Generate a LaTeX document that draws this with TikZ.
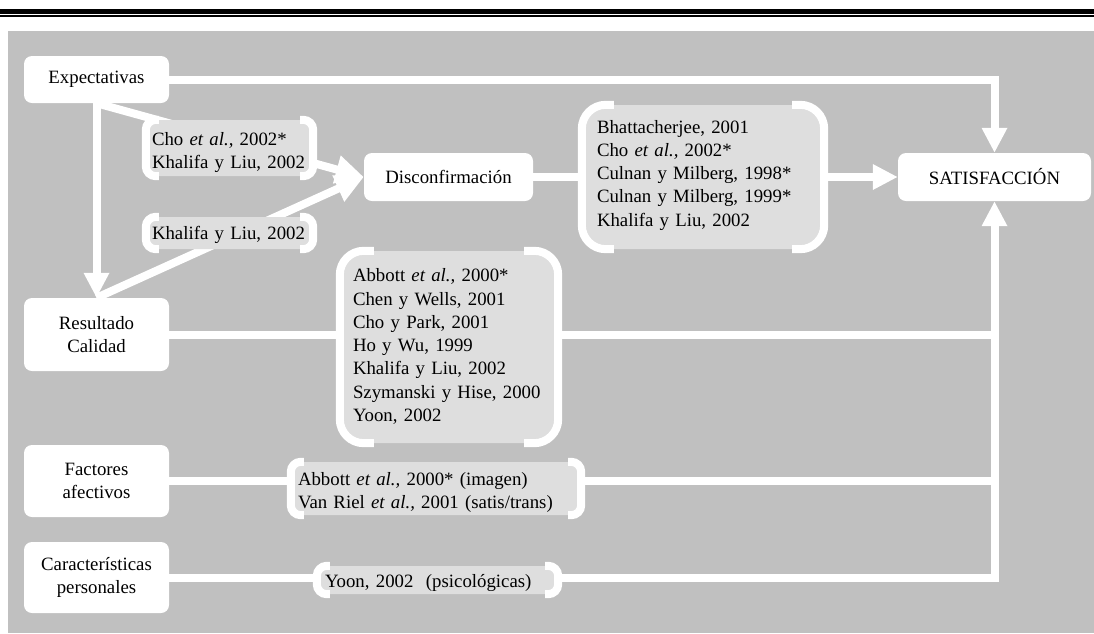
\documentclass[tikz,border=0pt]{standalone}
\usepackage{fontspec}
\setmainfont{Liberation Serif}
\usetikzlibrary{arrows.meta}
\pgfdeclarelayer{panel}
\pgfdeclarelayer{links}
\pgfsetlayers{panel,links,main}
\definecolor{panelgray}{HTML}{C0C0C0}
\definecolor{reffill}{HTML}{DEDEDE}

% reference list: one left-aligned column, never broken, optionally shifted up/down
\newcommand\reflist[2][0pt]{\raisebox{#1}[\height][\depth]{\begin{tabular}{@{}l@{}}#2\end{tabular}}}
% white side brackets of a reference box: name, corner radius, stub length
\newcommand\refbrackets[3]{%
  \draw[citebracket, rounded corners=#2]
    ([xshift=#2+#3]#1.north west) -- (#1.north west) -- (#1.south west) -- ([xshift=#2+#3]#1.south west);
  \draw[citebracket, rounded corners=#2]
    ([xshift=-#2-#3]#1.north east) -- (#1.north east) -- (#1.south east) -- ([xshift=-#2-#3]#1.south east);
}

\begin{document}
\begin{tikzpicture}[x=1pt,y=-1pt,
  every node/.style={font={\fontsize{18.8}{23.3}\selectfont}, text=black},
  factor/.style={fill=white, rounded corners=8pt, align=center, inner sep=0pt},
  refbox/.style={fill=reffill, align=left, inner ysep=0pt},
  flow/.style={draw=white, line width=8pt},
  arrowed/.style={-{Triangle[length=25pt,width=24pt]}},
  bigarrowed/.style={-{Triangle[length=28pt,width=27pt]}},
  citebracket/.style={draw=white, line width=8pt},
]
\useasboundingbox (0,0) rectangle (1094,633);

% page rules and grey panel
\begin{pgfonlayer}{panel}
  \fill[black] (0,9) rectangle (1094,14);
  \fill[black] (0,15.3) rectangle (1094,17);
  \fill[panelgray] (8,31) rectangle (1094,633);
\end{pgfonlayer}

% constructs
\node[factor, minimum width=145pt, minimum height=47pt] (exp) at (96.5,79.5) {Expectativas};
\node[factor, minimum width=145pt, minimum height=73pt] (res) at (96.5,334.5) {Resultado\\Calidad};
\node[factor, minimum width=145pt, minimum height=72pt] (fac) at (96.5,481) {Factores\\afectivos};
\node[factor, minimum width=145pt, minimum height=71pt] (car) at (96.5,577.5) {Características\\personales};
\node[factor, minimum width=169pt, minimum height=48pt] (dis) at (448.5,177) {Disconfirmación};
\node[factor, minimum width=193pt, minimum height=48pt] (sat) at (994.5,177) {SATISFACCIÓN};

% studies supporting each relation
\node[refbox, rounded corners=10pt, minimum height=56pt, text width=155pt, inner xsep=6pt] (cho) at (229.5,148)
  {\reflist[-4pt]{Cho \textit{et al.,} 2002*\\Khalifa y Liu, 2002}};
\node[refbox, rounded corners=10pt, minimum height=32pt, text width=155pt, inner xsep=6pt] (kha) at (229.5,233)
  {\reflist[-2pt]{Khalifa y Liu, 2002}};
\node[refbox, rounded corners=24pt, minimum height=144pt, text width=212pt, inner xsep=15pt] (cul) at (703,177)
  {\reflist[2pt]{Bhattacherjee, 2001\\Cho \textit{et al.,} 2002*\\Culnan y Milberg, 1998*\\Culnan y Milberg, 1999*\\Khalifa y Liu, 2002}};
\node[refbox, rounded corners=24pt, minimum height=192pt, text width=192pt, inner xsep=13pt] (abb) at (449,347)
  {\reflist{Abbott \textit{et al.,} 2000*\\Chen y Wells, 2001\\Cho y Park, 2001\\Ho y Wu, 1999\\Khalifa y Liu, 2002\\Szymanski y Hise, 2000\\Yoon, 2002}};
\node[refbox, rounded corners=10pt, minimum height=53pt, text width=276pt, inner xsep=7pt] (img) at (436,488.5)
  {\reflist[-4pt]{Abbott \textit{et al.,} 2000* (imagen)\\Van Riel \textit{et al.,} 2001 (satis/trans)}};
\node[refbox, rounded corners=10pt, minimum height=28pt, text width=225pt, inner xsep=8pt] (yoon) at (437.5,580)
  {\reflist[-3pt]{Yoon, 2002\ \ (psicológicas)}};

\refbrackets{cho}{10pt}{3pt}
\refbrackets{kha}{10pt}{3pt}
\refbrackets{cul}{24pt}{8pt}
\refbrackets{abb}{24pt}{10pt}
\refbrackets{img}{10pt}{3pt}
\refbrackets{yoon}{10pt}{3pt}

% relations
\begin{pgfonlayer}{links}
  \draw[flow, arrowed] (exp.east) -| (sat.north);
  \draw[flow, arrowed] (exp.south) -- (res.north);
  \draw[flow, bigarrowed] (exp.south) -- (dis.west);
  \draw[flow, bigarrowed] (res.north) -- (dis.west);
  \draw[flow] (dis.east) -- (cul.west);
  \draw[flow, arrowed] (cul.east) -- (sat.west);
  \draw[flow] (res.east) -- (res.east -| abb.west);
  \draw[flow] (res.east -| abb.east) -- (res.east -| sat.south);
  \draw[flow] (fac.east) -- (fac.east -| img.west);
  \draw[flow] (fac.east -| img.east) -- (fac.east -| sat.south);
  \draw[flow] (car.east) -- (car.east -| yoon.west);
  \draw[flow, arrowed] (car.east -| yoon.east) -| (sat.south);
\end{pgfonlayer}
\end{tikzpicture}
\end{document}
